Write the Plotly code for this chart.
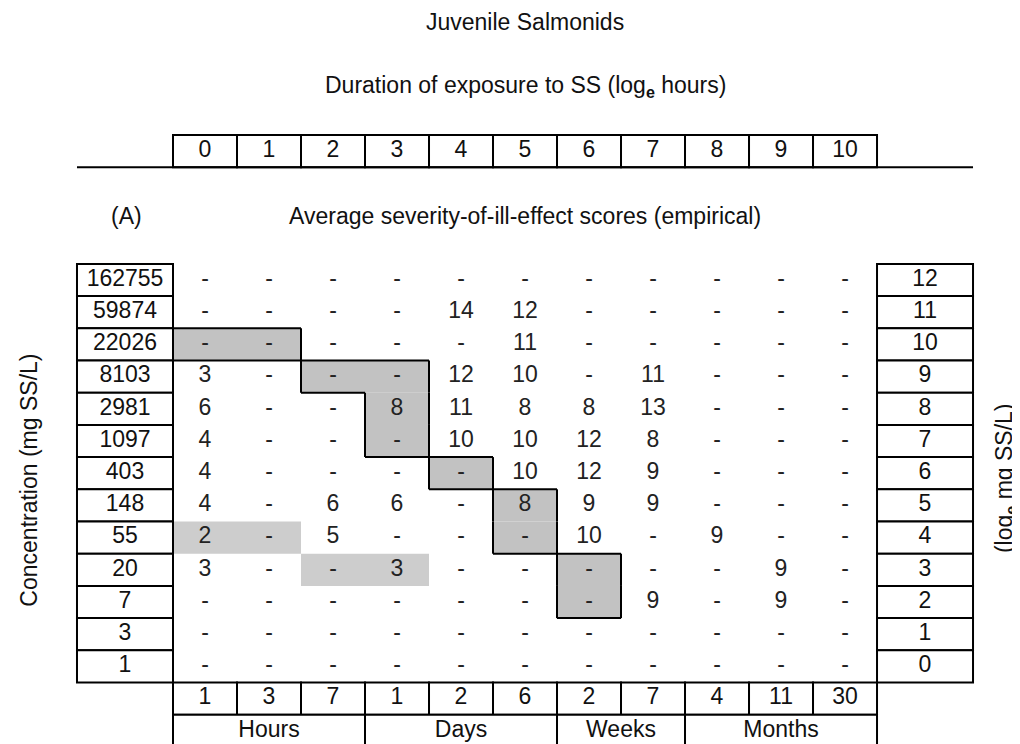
import plotly.graph_objects as go

# log_e hours across the top
duration_ticks = ["0", "1", "2", "3", "4", "5", "6", "7", "8", "9", "10"]

# concentration rows, top (log 12) to bottom (log 0)
conc_labels = ["162755", "59874", "22026", "8103", "2981", "1097", "403",
               "148", "55", "20", "7", "3", "1"]
log_labels = ["12", "11", "10", "9", "8", "7", "6", "5", "4", "3", "2", "1", "0"]

# average severity scores, rows in the same order as conc_labels
scores = [
    ["-", "-", "-", "-", "-", "-", "-", "-", "-", "-", "-"],
    ["-", "-", "-", "-", "14", "12", "-", "-", "-", "-", "-"],
    ["-", "-", "-", "-", "-", "11", "-", "-", "-", "-", "-"],
    ["3", "-", "-", "-", "12", "10", "-", "11", "-", "-", "-"],
    ["6", "-", "-", "8", "11", "8", "8", "13", "-", "-", "-"],
    ["4", "-", "-", "-", "10", "10", "12", "8", "-", "-", "-"],
    ["4", "-", "-", "-", "-", "10", "12", "9", "-", "-", "-"],
    ["4", "-", "6", "6", "-", "8", "9", "9", "-", "-", "-"],
    ["2", "-", "5", "-", "-", "-", "10", "-", "9", "-", "-"],
    ["3", "-", "-", "3", "-", "-", "-", "-", "-", "9", "-"],
    ["-", "-", "-", "-", "-", "-", "-", "9", "-", "9", "-"],
    ["-", "-", "-", "-", "-", "-", "-", "-", "-", "-", "-"],
    ["-", "-", "-", "-", "-", "-", "-", "-", "-", "-", "-"],
]

# exposure time in everyday units along the bottom
time_values = ["1", "3", "7", "1", "2", "6", "2", "7", "4", "11", "30"]
time_units = ["Hours", "Days", "Weeks", "Months"]
unit_spans = [3, 3, 2, 3]  # number of columns under each unit

# shaded cells as (log row, column); outlined staircase and plain shading
outlined_cells = [(10, 0), (10, 1), (9, 2), (9, 3), (8, 3), (7, 3),
                  (6, 4), (5, 5), (4, 5), (3, 6), (2, 6)]
plain_cells = [(4, 0), (4, 1), (3, 2), (3, 3)]

FONT = "Liberation Sans, Arial, sans-serif"
CELL = 23
TITLE = 23
SHADE = "#c2c2c2"
LW = 2

n_cols = len(duration_ticks)
n_rows = len(conc_labels)
top = n_rows - 1

fig = go.Figure()
shapes = []


def box(x0, x1, y0, y1, fill="white"):
    shapes.append(dict(type="rect", xref="x", yref="y", x0=x0, x1=x1, y0=y0, y1=y1,
                       fillcolor=fill, line=dict(color="black", width=LW), layer="below"))


# shaded cells (fill only)
for r, c in outlined_cells:
    shapes.append(dict(type="rect", xref="x", yref="y", x0=c - 0.5, x1=c + 0.5,
                       y0=r - 0.5, y1=r + 0.5, fillcolor=SHADE, line=dict(width=0), layer="below"))
for r, c in plain_cells:
    shapes.append(dict(type="rect", xref="x", yref="y", x0=c - 0.5, x1=c + 0.5,
                       y0=r - 0.5, y1=r + 0.5, fillcolor="#cdcdcd", line=dict(width=0), layer="below"))

# outline of the staircase: edges that do not border another outlined cell
ox, oy = [], []
cell_set = set(outlined_cells)
for r, c in outlined_cells:
    if (r + 1, c) not in cell_set:
        ox += [c - 0.5, c + 0.5, None]; oy += [r + 0.5, r + 0.5, None]
    if (r - 1, c) not in cell_set:
        ox += [c - 0.5, c + 0.5, None]; oy += [r - 0.5, r - 0.5, None]
    if (r, c - 1) not in cell_set:
        ox += [c - 0.5, c - 0.5, None]; oy += [r - 0.5, r + 0.5, None]
    if (r, c + 1) not in cell_set:
        ox += [c + 0.5, c + 0.5, None]; oy += [r - 0.5, r + 0.5, None]
fig.add_trace(go.Scatter(x=ox, y=oy, mode="lines", line=dict(color="black", width=LW),
                         hoverinfo="skip", showlegend=False))

# header row of log hours, with the long rule under it
head_y = top + 4
for c in range(n_cols):
    box(c - 0.5, c + 0.5, head_y - 0.5, head_y + 0.5)
shapes.append(dict(type="line", xref="x", yref="y", x0=-2, x1=12, y0=head_y - 0.5,
                   y1=head_y - 0.5, line=dict(color="black", width=LW)))
fig.add_trace(go.Scatter(x=list(range(n_cols)), y=[head_y] * n_cols, text=duration_ticks,
                         mode="text", textfont=dict(family=FONT, size=CELL, color="#111"),
                         hoverinfo="skip", showlegend=False))

# left concentration and right log boxes
rows_y = [top - i for i in range(n_rows)]
for y in rows_y:
    box(-2.0, -0.5, y - 0.5, y + 0.5)
    box(10.5, 12.0, y - 0.5, y + 0.5)
fig.add_trace(go.Scatter(x=[-1.25] * n_rows, y=rows_y, text=conc_labels, mode="text",
                         textfont=dict(family=FONT, size=CELL, color="#111"),
                         hoverinfo="skip", showlegend=False))
fig.add_trace(go.Scatter(x=[11.25] * n_rows, y=rows_y, text=log_labels, mode="text",
                         textfont=dict(family=FONT, size=CELL, color="#111"),
                         hoverinfo="skip", showlegend=False))

# score grid
gx, gy, gt = [], [], []
for i, row in enumerate(scores):
    for c, v in enumerate(row):
        gx.append(c); gy.append(top - i); gt.append(v)
fig.add_trace(go.Scatter(x=gx, y=gy, text=gt, mode="text",
                         textfont=dict(family=FONT, size=CELL, color="#222"),
                         hoverinfo="skip", showlegend=False))

# bottom time rows
for c in range(n_cols):
    box(c - 0.5, c + 0.5, -1.5, -0.5)
fig.add_trace(go.Scatter(x=list(range(n_cols)), y=[-1] * n_cols, text=time_values,
                         mode="text", textfont=dict(family=FONT, size=CELL, color="#111"),
                         hoverinfo="skip", showlegend=False))
start = 0
ux = []
for span in unit_spans:
    box(start - 0.5, start + span - 0.5, -2.5, -1.5)
    ux.append(start + (span - 1) / 2)
    start += span
fig.add_trace(go.Scatter(x=ux, y=[-2] * len(ux), text=time_units, mode="text",
                         textfont=dict(family=FONT, size=CELL, color="#111"),
                         hoverinfo="skip", showlegend=False))

annotations = [
    dict(x=5, y=top + 8, text="Juvenile Salmonids"),
    dict(x=5, y=top + 6, text="Duration of exposure to SS (log<sub><b>e</b></sub> hours)"),
    dict(x=-1.22, y=top + 2, text="(A)"),
    dict(x=5, y=top + 2, text="Average severity-of-ill-effect scores (empirical)"),
    dict(x=-2.75, y=5.8, text="Concentration (mg SS/L)", textangle=-90),
    dict(x=12.5, y=5.85, text="(log<sub><b>e</b></sub> mg SS/L)", textangle=-90),
]
for a in annotations:
    a.update(xref="x", yref="y", showarrow=False,
             font=dict(family=FONT, size=TITLE, color="#111"))

# the page adds an 8px body margin, so the axis ranges are offset to match
fig.update_layout(
    width=1020, height=744,
    margin=dict(l=0, r=0, t=0, b=0),
    paper_bgcolor="white", plot_bgcolor="white",
    shapes=shapes, annotations=annotations,
    xaxis=dict(range=[-3.078, 12.859], visible=False, fixedrange=True),
    yaxis=dict(range=[-2.658, 20.447], visible=False, fixedrange=True),
    showlegend=False,
)

fig.write_html("out.html")
